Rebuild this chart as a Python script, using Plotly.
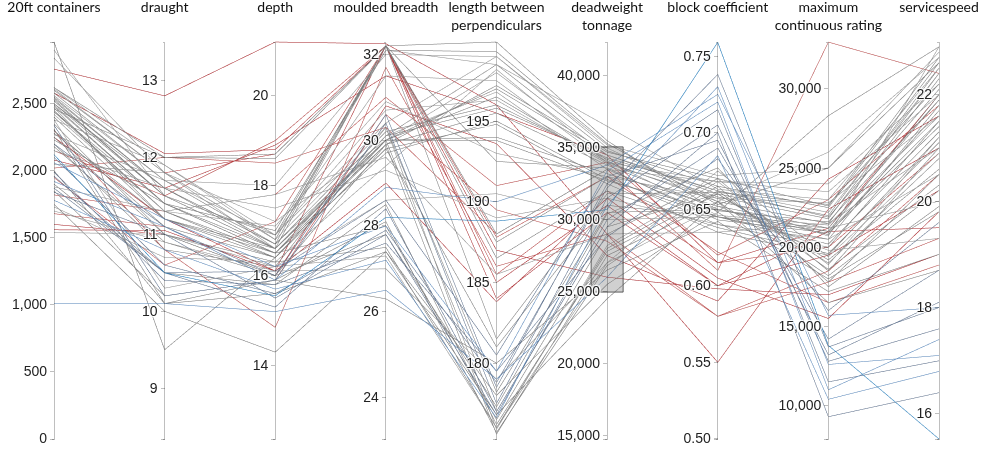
import plotly.graph_objects as go

# Container ship particulars, one entry per ship
teu = [2550, 2500, 2480, 2600, 2450, 2520, 2400, 2580, 2470, 2350,
       2300, 2250, 2200, 2620, 2900, 2960, 2840, 2620, 2560, 2420,
       2150, 1540, 1700, 2050, 1880, 2380, 2000, 1850, 1750, 1900,
       2230, 2280, 2500, 2440, 2530, 2460, 2340, 2200, 1870, 1840,
       1960, 1010, 1920, 2100, 2120, 1780, 2060, 2758, 1600, 1560,
       2050, 2580, 2300, 2020, 1820, 2150, 2250, 1950, 2080, 1680,
       2380, 2310, 2610, 2180, 2490, 1730, 2270, 2540, 2440, 1990]
draught = [11.6, 11.5, 11.4, 11.8, 11.3, 11.5, 11.2, 11.7, 11.2, 11.0,
           11.1, 11.0, 10.8, 12.0, 11.5, 9.5, 11.8, 11.9, 11.7, 11.3,
           11.6, 11.0, 10.9, 11.8, 11.3, 11.9, 10.1, 10.2, 10.0, 10.5,
           11.4, 11.2, 11.6, 11.4, 11.5, 12.0, 10.2, 11.1, 10.5, 11.0,
           10.5, 10.1, 11.1, 10.6, 10.5, 10.8, 11.2, 12.8, 11.0, 11.05,
           11.8, 12.05, 10.8, 12.0, 11.3, 11.5, 11.2, 10.6, 11.6, 11.1,
           10.3, 10.1, 11.8, 10.9, 11.4, 10.7, 11.7, 11.6, 11.3, 10.4]
depth = [16.7, 16.6, 16.6, 16.8, 16.5, 16.9, 16.4, 16.7, 16.5, 16.3,
         16.4, 16.0, 16.2, 18.7, 16.9, 16.4, 17.2, 16.9, 18.0, 17.1,
         17.5, 16.2, 16.1, 16.6, 17.8, 16.8, 15.6, 15.9, 14.3, 15.8,
         16.5, 16.6, 16.7, 16.5, 16.6, 18.6, 15.9, 16.0, 16.1, 15.5,
         15.3, 15.2, 15.9, 15.6, 15.55, 15.7, 16.2, 21.19, 16.0, 16.1,
         18.7, 18.8, 14.85, 18.5, 17.8, 19.0, 16.1, 17.2, 18.9, 15.9,
         16.2, 15.9, 16.8, 16.0, 17.0, 16.3, 16.9, 16.6, 16.4, 15.8]
breadth = [30.0, 30.0, 29.9, 32.2, 30.1, 32.2, 29.8, 30.2, 28.0, 27.5,
           30.0, 29.9, 30.3, 32.2, 30.4, 29.8, 30.0, 31.5, 32.0, 30.9,
           29.3, 28.6, 27.0, 30.1, 29.6, 32.1, 27.4, 26.3, 27.4, 28.5,
           29.7, 30.0, 32.2, 29.9, 30.1, 32.2, 30.4, 30.6, 28.6, 27.8,
           28.4, 26.5, 28.9, 27.9, 28.2, 27.2, 28.0, 32.25, 30.8, 32.2,
           32.2, 32.2, 31.7, 30.3, 31.0, 32.2, 29.0, 32.2, 31.5, 30.6,
           27.3, 28.1, 30.3, 27.8, 32.1, 29.4, 30.7, 32.2, 30.0, 27.6]
lbp = [196.5, 197.0, 195.5, 188.0, 198.5, 187.5, 194.8, 196.0, 176.5, 176.0,
       177.0, 175.6, 178.2, 199.9, 199.0, 181.0, 198.0, 197.5, 199.0, 193.0,
       189.0, 190.5, 179.0, 196.8, 185.5, 198.5, 178.0, 180.0, 176.8, 176.2,
       195.0, 194.0, 186.5, 197.2, 195.8, 192.5, 177.5, 178.5, 180.5, 176.8,
       177.0, 179.0, 190.0, 178.8, 188.8, 176.6, 179.5, 196.0, 193.6, 184.0,
       185.0, 187.0, 186.0, 188.0, 191.0, 185.5, 183.8, 187.8, 195.5, 189.5,
       176.0, 175.7, 175.9, 177.3, 199.3, 198.2, 196.3, 181.5, 193.8, 179.5]
dwt = [34000, 34500, 33800, 33500, 34800, 33000, 32500, 34200, 29000, 28000,
       29500, 27500, 30500, 35500, 35000, 31000, 34500, 34000, 35200, 33000,
       31500, 30000, 27000, 33500, 29000, 36500, 25500, 26500, 24500, 27800,
       32800, 33200, 32000, 34700, 34300, 33600, 31500, 32500, 33000, 30000,
       29500, 26000, 33800, 32200, 30700, 31000, 33400, 29000, 27500, 30500,
       31000, 26000, 29000, 33500, 34000, 32000, 31500, 33000, 34500, 28500,
       27000, 26800, 28200, 30400, 35300, 34100, 33900, 31800, 32700, 28800]
cb = [0.655, 0.660, 0.650, 0.645, 0.665, 0.640, 0.635, 0.658, 0.670, 0.665,
      0.660, 0.655, 0.650, 0.648, 0.655, 0.645, 0.662, 0.668, 0.672, 0.657,
      0.640, 0.645, 0.652, 0.668, 0.635, 0.663, 0.648, 0.642, 0.655, 0.660,
      0.645, 0.652, 0.638, 0.670, 0.662, 0.643, 0.705, 0.715, 0.695, 0.690,
      0.700, 0.685, 0.725, 0.738, 0.759, 0.730, 0.720, 0.550, 0.590, 0.600,
      0.600, 0.598, 0.580, 0.610, 0.620, 0.615, 0.605, 0.622, 0.615, 0.580,
      0.675, 0.662, 0.668, 0.677, 0.653, 0.646, 0.657, 0.661, 0.649, 0.683]
mcr = [21500, 22000, 21000, 20500, 22500, 20000, 19500, 21800, 18500, 17800,
       19000, 18200, 20800, 28300, 26000, 21000, 22200, 23500, 25000, 22800,
       20500, 21200, 19800, 24000, 21500, 23000, 18000, 17200, 16500, 19200,
       20200, 21200, 19600, 22600, 21900, 20900, 12800, 11500, 13200, 14200,
       9300, 10400, 15700, 13700, 13800, 12600, 11000, 22400, 24300, 21000,
       19500, 17000, 18500, 32950, 23000, 20000, 15500, 16500, 21200, 17800,
       19400, 18600, 18900, 17500, 25000, 21400, 20700, 22700, 21600, 16000]
speed = [22.3, 22.5, 22.0, 21.8, 22.6, 21.5, 21.2, 22.4, 21.0, 20.5,
         20.8, 20.2, 21.7, 22.9, 22.7, 21.5, 22.4, 22.0, 22.8, 21.6,
         20.5, 20.0, 19.3, 22.2, 21.0, 22.5, 19.8, 19.0, 18.7, 20.6,
         21.3, 21.9, 21.1, 22.7, 22.1, 21.4, 17.6, 17.0, 18.1, 18.7,
         16.4, 16.8, 18.0, 18.0, 15.53, 17.1, 17.4, 21.0, 21.6, 19.5,
         20.2, 19.0, 20.5, 22.4, 21.8, 20.9, 19.8, 18.8, 22.0, 19.3,
         20.9, 20.3, 21.2, 19.9, 22.6, 21.6, 22.9, 22.2, 21.9, 19.6]
# Line shade group: 0 strong red ... 3 grey ... 7 strong blue
shade = [3, 3, 3, 3, 3, 3, 3, 3, 3, 3,
         3, 3, 3, 3, 4, 3, 4, 4, 4, 4,
         4, 4, 4, 4, 4, 4, 3, 3, 3, 3,
         3, 3, 3, 3, 3, 3, 5, 5, 5, 5,
         5, 6, 6, 5, 7, 6, 6, 0, 0, 1,
         1, 1, 2, 2, 2, 2, 1, 2, 1, 2,
         4, 3, 4, 3, 3, 4, 4, 3, 3, 5]

# Brushed interval on deadweight tonnage
dwt_brush = [25000, 35000]

shade_colors = [
    "rgba(178,40,45,1.0)",
    "rgba(178,40,45,0.72)",
    "rgba(190,70,70,0.42)",
    "rgba(125,125,125,0.9)",
    "rgba(150,150,150,0.5)",
    "rgba(95,115,145,0.7)",
    "rgba(90,140,195,0.5)",
    "rgba(26,124,193,1.0)",
]
n = len(shade_colors)
colorscale = []
for i, c in enumerate(shade_colors):
    colorscale.append([i / n, c])
    colorscale.append([(i + 1) / n, c])


def dim(label, values, lo, hi, ticks, fmt):
    # keep the axis line over the full range: the ends carry blank labels
    vals = [lo] + ticks + [hi]
    text = [""] + [fmt.format(t) for t in ticks] + [""]
    return dict(label=label, values=values, range=[lo, hi],
                tickvals=vals, ticktext=text)


dims = [
    dim("20ft containers", teu, 0, 2960, [500, 1000, 1500, 2000, 2500], "{:,.0f}"),
    dim("draught", draught, 8.34, 13.5, [9, 10, 11, 12, 13], "{:.0f}"),
    dim("depth", depth, 12.37, 21.19, [14, 16, 18, 20], "{:.0f}"),
    dim("moulded breadth", breadth, 23.03, 32.29, [24, 26, 28, 30, 32], "{:.0f}"),
    dim("length between<br>perpendiculars", lbp, 175.3, 199.9,
        [180, 185, 190, 195], "{:.0f}"),
    dim("deadweight<br>tonnage", dwt, 14745, 42360,
        [15000, 20000, 25000, 30000, 35000, 40000], "{:,.0f}"),
    dim("block coefficient", cb, 0.4999, 0.7592,
        [0.5, 0.55, 0.6, 0.65, 0.7, 0.75], "{:.2f}"),
    dim("maximum<br>continuous rating", mcr, 7894, 32956,
        [10000, 15000, 20000, 25000, 30000], "{:,.0f}"),
    dim("servicespeed", speed, 15.53, 22.99, [16, 18, 20, 22], "{:.0f}"),
]
# zero sits at the very bottom of the first axis
dims[0]["tickvals"][0] = 0
dims[0]["ticktext"][0] = "0"

fig = go.Figure(go.Parcoords(
    dimensions=dims,
    line=dict(color=shade, colorscale=colorscale, cmin=-0.5, cmax=n - 0.5,
              showscale=False),
    labelfont=dict(family="Lato", size=14, color="#111"),
    tickfont=dict(family="Liberation Sans", size=14, color="#222"),
    rangefont=dict(size=1, color="rgba(0,0,0,0)"),
))

# brush box drawn over the deadweight tonnage axis
k = 5
ax_x = k / (len(dims) - 1)
lo, hi = dims[k]["range"]
half_w = 16 / 885
fig.add_shape(
    type="rect", xref="paper", yref="paper", layer="above",
    x0=ax_x - half_w, x1=ax_x + half_w,
    y0=(dwt_brush[0] - lo) / (hi - lo), y1=(dwt_brush[1] - lo) / (hi - lo),
    fillcolor="rgba(120,120,120,0.35)",
    line=dict(color="rgba(60,60,60,0.8)", width=1),
)

fig.update_layout(
    width=987, height=453,
    margin=dict(l=54, r=48, t=40, b=12),
    font=dict(family="Liberation Sans", size=14, color="#222"),
    paper_bgcolor="white", plot_bgcolor="white",
)
fig.write_html("out.html")
